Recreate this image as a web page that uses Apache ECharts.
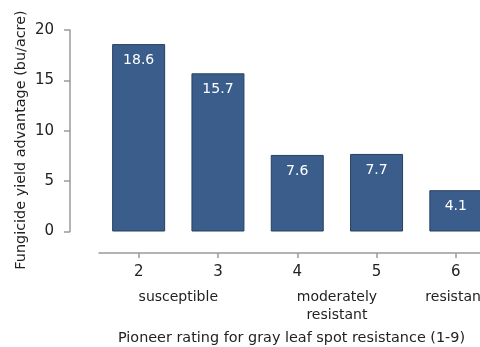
<!DOCTYPE html>
<html>
<head>
<meta charset="utf-8">
<script src="https://cdn.jsdelivr.net/npm/echarts@6/dist/echarts.min.js"></script>
<style>
  html, body { margin: 0; padding: 0; background: #fff; }
  #chart { width: 480px; height: 347px; }
</style>
</head>
<body>
<div id="chart"></div>
<script>
// Pioneer gray leaf spot rating vs. fungicide yield response
const ratings = ['2', '3', '4', '5', '6'];
const yieldAdvantage = [18.6, 15.7, 7.6, 7.7, 4.1];
const yTicks = { min: 0, max: 20, interval: 5 };
// Descriptive groups under the rating axis: [text, first rating index, last rating index]
const ratingGroups = [
  ['susceptible', 0, 1],
  ['moderately\nresistant', 2, 3],
  ['resistant', 4, 4]
];
const yTitle = 'Fungicide yield advantage (bu/acre)';
const xTitle = 'Pioneer rating for gray leaf spot resistance (1-9)';

const FONT = '"DejaVu Sans", Verdana, sans-serif';
const TEXT = '#222';
const AXIS = '#9a9a9a';

const chart = echarts.init(document.getElementById('chart'), null, { renderer: 'canvas' });

chart.setOption({
  animation: false,
  grid: {
    left: 99, top: 30, width: 396.5, height: 201.5,
    containLabel: false,
    outerBoundsMode: 'none'
  },
  xAxis: {
    type: 'category',
    data: ratings,
    offset: 21.5,
    axisLine: { show: true, onZero: false, lineStyle: { color: AXIS, width: 1.5 } },
    axisTick: { show: true, alignWithLabel: true, length: 5, lineStyle: { color: AXIS, width: 1.5 } },
    axisLabel: { margin: 12, fontSize: 15, color: TEXT, fontFamily: FONT }
  },
  yAxis: {
    type: 'value',
    min: yTicks.min,
    max: yTicks.max,
    interval: yTicks.interval,
    offset: 29,
    axisLine: { show: true, lineStyle: { color: AXIS, width: 1.5 } },
    axisTick: { show: true, length: 6, lineStyle: { color: AXIS, width: 1.5 } },
    axisLabel: { margin: 16, fontSize: 15, color: TEXT, fontFamily: FONT },
    splitLine: { show: false }
  },
  series: [{
    type: 'bar',
    data: yieldAdvantage,
    barWidth: 53,
    itemStyle: { color: '#3a5d8c', borderColor: '#27405f', borderWidth: 1 },
    label: {
      show: true,
      position: 'insideTop',
      distance: 9,
      color: '#fff',
      fontSize: 14,
      fontFamily: FONT,
      formatter: p => p.value.toFixed(1)
    }
  }]
});

// Group captions and axis titles placed from the axis scale
const catX = i => chart.convertToPixel({ xAxisIndex: 0 }, i);
const labelY = 288;
const graphics = ratingGroups.map(([text, a, b]) => ({
  type: 'text',
  x: (catX(a) + catX(b)) / 2,
  y: labelY,
  style: {
    text: text,
    fill: TEXT,
    font: '14px ' + FONT,
    textAlign: 'center',
    textVerticalAlign: 'top',
    lineHeight: 18
  }
}));
graphics.push({
  type: 'text',
  x: 291.5,
  y: 338,
  style: { text: xTitle, fill: TEXT, font: '14.4px ' + FONT, textAlign: 'center', textVerticalAlign: 'middle' }
});
graphics.push({
  type: 'text',
  x: 21,
  y: 140,
  rotation: Math.PI / 2,
  style: { text: yTitle, fill: TEXT, font: '14.4px ' + FONT, textAlign: 'center', textVerticalAlign: 'middle' }
});
chart.setOption({ graphic: graphics });
</script>
</body>
</html>
